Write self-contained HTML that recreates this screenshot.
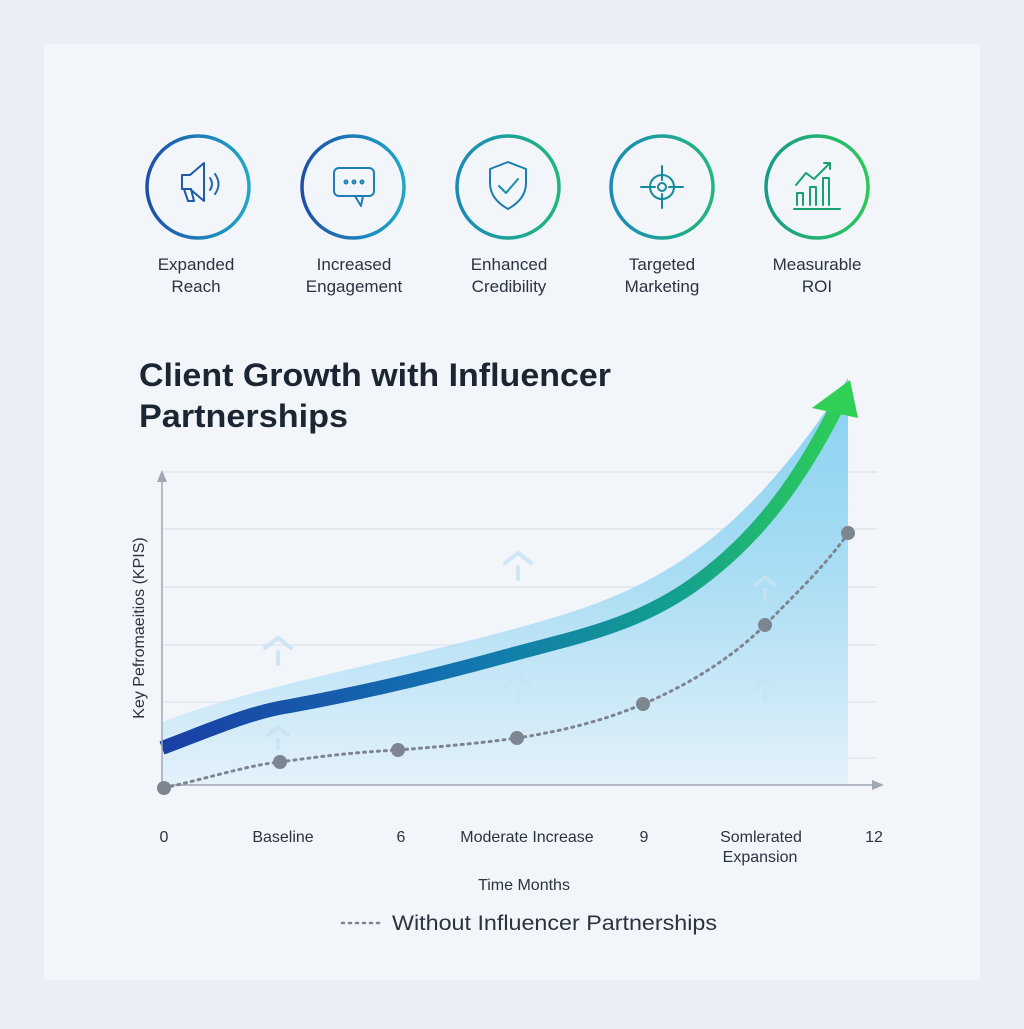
<!DOCTYPE html>
<html><head><meta charset="utf-8"><style>
body{margin:0;width:1024px;height:1024px;background:#e9eef4;font-family:"Liberation Sans",sans-serif;overflow:hidden}
</style></head><body>
<svg width="1024" height="1024" viewBox="0 0 1024 1024" xmlns="http://www.w3.org/2000/svg">
<defs>
<linearGradient id="ring" x1="0" y1="0" x2="1" y2="0"><stop offset="0" stop-color="#1d4fa8"/><stop offset="1" stop-color="#1fa8c8"/></linearGradient>
<linearGradient id="ring2" x1="0" y1="0" x2="1" y2="0"><stop offset="0" stop-color="#1a8ab8"/><stop offset="1" stop-color="#20b87a"/></linearGradient>
<linearGradient id="ring3" x1="0" y1="0" x2="1" y2="0"><stop offset="0" stop-color="#169a8a"/><stop offset="1" stop-color="#2cc85a"/></linearGradient>
<linearGradient id="line" x1="162" y1="0" x2="850" y2="0" gradientUnits="userSpaceOnUse"><stop offset="0" stop-color="#1a3ea6"/><stop offset="0.45" stop-color="#1277b0"/><stop offset="0.75" stop-color="#13a08e"/><stop offset="1" stop-color="#2fd055"/></linearGradient>
<linearGradient id="band" x1="0" y1="380" x2="0" y2="785" gradientUnits="userSpaceOnUse"><stop offset="0" stop-color="#7ccdf0"/><stop offset="0.5" stop-color="#a4dbf3"/><stop offset="1" stop-color="#e2f1fa"/></linearGradient>
</defs>
<rect x="44" y="44" width="936" height="936" fill="#f2f5fa"/>
<g fill="none" stroke-width="3.5">
<circle cx="198" cy="187" r="51" stroke="url(#ring)"/>
<circle cx="353" cy="187" r="51" stroke="url(#ring)"/>
<circle cx="508" cy="187" r="51" stroke="url(#ring2)"/>
<circle cx="662" cy="187" r="51" stroke="url(#ring2)"/>
<circle cx="817" cy="187" r="51" stroke="url(#ring3)"/>
</g>
<g fill="none" stroke-width="2" stroke-linejoin="round" stroke-linecap="round">
<path d="M182 175 h8 l14 -12 v38 l-14 -12 h-8 z M184 189 l4 12 h6 l-3 -12" stroke="#1f5aa8"/>
<path d="M210 178 q4 6 0 12 M215 174 q7 10 0 20" stroke="#1f6ab0"/>
<rect x="334" y="168" width="40" height="28" rx="5" stroke="#1d7fb8"/>
<path d="M355 196 l6 10 l2 -10" stroke="#1d7fb8"/>
<circle cx="346" cy="182" r="1.5" stroke="#1d7fb8"/><circle cx="354" cy="182" r="1.5" stroke="#1d7fb8"/><circle cx="362" cy="182" r="1.5" stroke="#1d7fb8"/>
<path d="M508 162 l18 7 v14 q0 16 -18 26 q-18 -10 -18 -26 v-14 z" stroke="#1a7fb0"/>
<path d="M499 186 l7 7 l12 -14" stroke="#1a90a8"/>
<circle cx="662" cy="187" r="12" stroke="#168a9a"/><circle cx="662" cy="187" r="4" stroke="#168a9a"/>
<path d="M662 166 v14 M662 194 v14 M641 187 h14 M669 187 h14" stroke="#168a9a"/>
<path d="M794 209 h46 M797 205 v-12 h6 v12 M810 205 v-18 h6 v18 M823 205 v-27 h6 v27 M796 185 l10 -12 l8 6 l16 -16 M824 163 h6 v6" stroke="#1aa070"/>
</g>
<g font-size="17" fill="#2a3340" text-anchor="middle">
<text x="196" y="270">Expanded</text><text x="196" y="292">Reach</text>
<text x="354" y="270">Increased</text><text x="354" y="292">Engagement</text>
<text x="509" y="270">Enhanced</text><text x="509" y="292">Credibility</text>
<text x="662" y="270">Targeted</text><text x="662" y="292">Marketing</text>
<text x="817" y="270">Measurable</text><text x="817" y="292">ROI</text>
</g>
<text x="139" y="386" font-size="32" font-weight="bold" fill="#1c2633" textLength="472" lengthAdjust="spacingAndGlyphs">Client Growth with Influencer</text>
<text x="139" y="427" font-size="32" font-weight="bold" fill="#1c2633" textLength="209" lengthAdjust="spacingAndGlyphs">Partnerships</text>
<g stroke="#dde3ea" stroke-width="1.2">
<line x1="162" y1="472" x2="877" y2="472"/><line x1="162" y1="529" x2="877" y2="529"/><line x1="162" y1="587" x2="877" y2="587"/><line x1="162" y1="645" x2="877" y2="645"/><line x1="162" y1="702" x2="877" y2="702"/><line x1="162" y1="758" x2="877" y2="758"/>
</g>
<path d="M162 722 C260 685 380 665 510 630 C640 595 730 560 848 378 L848 785 L162 785 Z" fill="url(#band)" opacity="0.9"/>
<g stroke="#c6e2f4" stroke-width="4" fill="none" stroke-linecap="round" opacity="0.8">
<path d="M265 648 l13 -10 l13 10 M278 652 v12"/><path d="M505 563 l13 -10 l13 10 M518 567 v12"/>
<path d="M505 686 l13 -10 l13 10 M518 690 v12"/><path d="M755 585 l10 -8 l10 8 M765 590 v8"/>
<path d="M755 688 l10 -8 l10 8 M765 692 v6"/><path d="M268 735 l10 -8 l10 8 M278 740 v8"/>
</g>
<path d="M162 748 C210 730 250 712 290 706 C350 695 420 680 510 655 C580 636 640 625 700 580 C760 535 800 480 838 405" stroke="url(#line)" stroke-width="14" fill="none"/>
<path d="M812 408 L850 380 L858 418 Z" fill="#2fd055"/>
<line x1="162" y1="785" x2="162" y2="478" stroke="#a0a8b2" stroke-width="1.5"/>
<path d="M157 482 L162 470 L167 482 Z" fill="#a0a8b2"/>
<line x1="162" y1="785" x2="875" y2="785" stroke="#a0a8b2" stroke-width="1.5"/>
<path d="M872 780 L884 785 L872 790 Z" fill="#a0a8b2"/>
<path d="M164 788 C220 775 250 765 280 762 C330 755 360 752 398 750 C450 746 490 742 517 738 C570 730 610 718 643 704 C700 680 740 650 765 625 C800 590 830 560 848 533" stroke="#7d8591" stroke-width="3" stroke-dasharray="2 5" stroke-linecap="round" fill="none"/>
<g fill="#7d8591"><circle cx="164" cy="788" r="7"/><circle cx="280" cy="762" r="7"/><circle cx="398" cy="750" r="7"/><circle cx="517" cy="738" r="7"/><circle cx="643" cy="704" r="7"/><circle cx="765" cy="625" r="7"/><circle cx="848" cy="533" r="7"/></g>
<text transform="translate(144,628) rotate(-90)" font-size="16" fill="#2a3340" text-anchor="middle">Key Pefromaeitios (KPIS)</text>
<g font-size="16" fill="#2a3340" text-anchor="middle">
<text x="164" y="842">0</text><text x="283" y="842">Baseline</text><text x="401" y="842">6</text><text x="527" y="842">Moderate Increase</text><text x="644" y="842">9</text><text x="761" y="842">Somlerated</text><text x="760" y="862">Expansion</text><text x="874" y="842">12</text>
<text x="524" y="890">Time Months</text>
</g>
<line x1="342" y1="923" x2="384" y2="923" stroke="#7d8591" stroke-width="2.5" stroke-dasharray="2 5" stroke-linecap="round"/>
<text x="392" y="930" font-size="21" fill="#2a3340" textLength="325" lengthAdjust="spacingAndGlyphs">Without Influencer Partnerships</text>
</svg>
</body></html>
